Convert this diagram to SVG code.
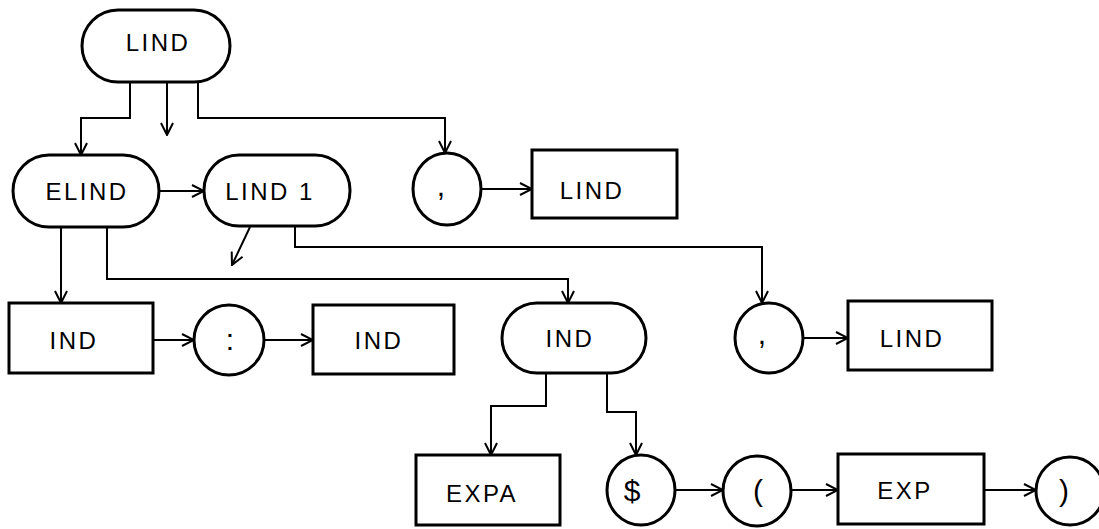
<svg xmlns="http://www.w3.org/2000/svg" width="1099" height="529" viewBox="0 0 1099 529">
<style>
.shape{fill:#fff;stroke:#000;stroke-width:3}
.lbl{font-family:"Liberation Sans","DejaVu Sans",sans-serif;font-size:24px;letter-spacing:2.5px;fill:#000;text-anchor:middle}
.sym{font-family:"Liberation Sans","DejaVu Sans",sans-serif;font-size:30px;fill:#000;text-anchor:middle}
.con{fill:none;stroke:#000;stroke-width:2;marker-end:url(#ah)}
</style>
<defs>
<marker id="ah" viewBox="0 0 14 14" refX="13" refY="7" markerWidth="14" markerHeight="14" markerUnits="userSpaceOnUse" orient="auto">
<path d="M1,1 L13,7 L1,13" fill="none" stroke="#000" stroke-width="2"/>
</marker>
</defs>
<rect width="1099" height="529" fill="#fff"/>
<g id="connectors">
<path class="con" d="M130,82 V118 H81 V155"/>
<path class="con" d="M167,82 V135"/>
<path class="con" d="M198,82 V118 H445 V153"/>
<path class="con" d="M159,191 H204"/>
<path class="con" d="M481,189 H532"/>
<path class="con" d="M61,227 V303"/>
<path class="con" d="M107,227 V279 H568 V303"/>
<path class="con" d="M250,227 L232,265"/>
<path class="con" d="M295,226 V247 H762 V303"/>
<path class="con" d="M153,340 H194"/>
<path class="con" d="M264,340 H313"/>
<path class="con" d="M803,338 H848"/>
<path class="con" d="M546,373 V406 H491 V455"/>
<path class="con" d="M607,373 V412 H636 V455"/>
<path class="con" d="M675,490 H723"/>
<path class="con" d="M791,490 H838"/>
<path class="con" d="M984,490 H1036"/>
</g>
<g id="n_lind_top"><rect class="shape" x="82" y="10" width="148" height="72" rx="36"/><text class="lbl" x="158" y="51">LIND</text></g>
<g id="n_elind"><rect class="shape" x="13" y="155" width="146" height="72" rx="36"/><text class="lbl" x="87" y="200">ELIND</text></g>
<g id="n_lind1"><rect class="shape" x="204" y="155" width="146" height="71" rx="35"/><text class="lbl" x="270" y="200">LIND 1</text></g>
<g id="n_comma1"><ellipse class="shape" cx="447" cy="189" rx="34" ry="36"/><text class="sym" x="441" y="196">,</text></g>
<g id="n_lind_box1"><rect class="shape" x="532" y="150" width="145" height="68"/><text class="lbl" x="592" y="199">LIND</text></g>
<g id="n_ind1"><rect class="shape" x="9" y="303" width="144" height="70"/><text class="lbl" x="74" y="349">IND</text></g>
<g id="n_colon"><ellipse class="shape" cx="229" cy="340" rx="35" ry="35"/><text class="sym" x="230" y="350">:</text></g>
<g id="n_ind2"><rect class="shape" x="313" y="305" width="141" height="69"/><text class="lbl" x="379" y="349">IND</text></g>
<g id="n_ind3"><rect class="shape" x="502" y="303" width="144" height="70" rx="35"/><text class="lbl" x="570" y="347">IND</text></g>
<g id="n_comma2"><ellipse class="shape" cx="769" cy="338" rx="34" ry="35"/><text class="sym" x="762" y="344">,</text></g>
<g id="n_lind_box2"><rect class="shape" x="848" y="301" width="144" height="69"/><text class="lbl" x="912" y="347">LIND</text></g>
<g id="n_expa"><rect class="shape" x="416" y="455" width="144" height="70"/><text class="lbl" x="482" y="502">EXPA</text></g>
<g id="n_dollar"><ellipse class="shape" cx="641" cy="490" rx="34" ry="35"/><text class="sym" x="632" y="501">$</text></g>
<g id="n_paren_open"><ellipse class="shape" cx="757" cy="491" rx="34" ry="35"/><text class="sym" x="758" y="501">(</text></g>
<g id="n_exp"><rect class="shape" x="838" y="454" width="146" height="70"/><text class="lbl" x="905" y="499">EXP</text></g>
<g id="n_paren_close"><ellipse class="shape" cx="1070" cy="491" rx="34" ry="34"/><text class="sym" x="1064" y="501">)</text></g>
</svg>
